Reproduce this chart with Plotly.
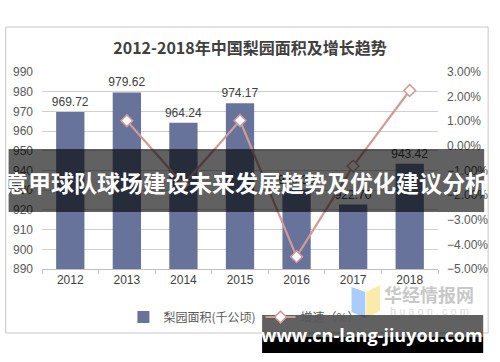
import plotly.graph_objects as go

years = ["2012", "2013", "2014", "2015", "2016", "2017", "2018"]
area = [969.72, 979.62, 964.24, 974.17, 930.33, 922.70, 943.42]
growth_pct = [None, 1.02, -1.57, 1.03, -4.50, -0.82, 2.25]
area_labels = ["969.72", "979.62", "964.24", "974.17", "930.33", "922.70", "943.42"]

W, H = 500, 362
L, R, T, B = 42, 55, 72, 93
PW, PH = W - L - R, H - T - B


def px(x):
    return (x - L) / PW


def py(y):
    return (H - B - y) / PH


bar_color = "#68739b"
line_color = "#d09c98"
txt = "#595959"

fig = go.Figure()
fig.add_trace(go.Bar(
    x=years, y=area, name="梨园面积(千公顷)",
    marker=dict(color=bar_color, line=dict(width=0)),
    text=area_labels, textposition="outside", cliponaxis=False, constraintext="none",
    textfont=dict(size=12, color="#404040", family="Liberation Sans"),
    width=0.5,
))
fig.add_trace(go.Scatter(
    x=years, y=[None if g is None else g / 100 for g in growth_pct],
    name="增速（%）", yaxis="y2", mode="lines+markers",
    line=dict(color=line_color, width=2.2),
    marker=dict(symbol="diamond", size=9, color="white",
                line=dict(color=line_color, width=1.5)),
    connectgaps=False,
))

shapes = [
    # outer chart frame
    dict(type="rect", xref="paper", yref="paper", x0=px(5), x1=px(496), y0=py(333), y1=py(27),
         line=dict(color="#c8c8c8", width=1), fillcolor="rgba(0,0,0,0)", layer="below"),
    # banner
    dict(type="rect", xref="paper", yref="paper", x0=px(8), x1=px(492), y0=py(212), y1=py(149),
         line=dict(width=0), fillcolor="rgba(0,0,0,0.62)", layer="above"),
    # bottom-right box
    dict(type="rect", xref="paper", yref="paper", x0=px(266), x1=px(491), y0=py(337), y1=py(315),
         line=dict(width=0), fillcolor="rgba(0,0,0,0.62)", layer="above"),
    dict(type="rect", xref="paper", yref="paper", x0=px(266), x1=px(491), y0=py(353), y1=py(337),
         line=dict(width=0), fillcolor="#000000", layer="above"),
    # watermark logo
    dict(type="path", xref="paper", yref="paper",
         path=f"M {px(357)} {py(287)} L {px(371)} {py(292)} L {px(371)} {py(318)} L {px(357)} {py(312)} Z",
         line=dict(width=0), fillcolor="rgba(150,190,250,0.8)", layer="below"),
    dict(type="path", xref="paper", yref="paper",
         path=f"M {px(372)} {py(292)} L {px(386)} {py(285)} L {px(386)} {py(311)} L {px(372)} {py(318)} Z",
         line=dict(width=0), fillcolor="rgba(250,230,150,0.8)", layer="below"),
]

annotations = [
    dict(text="意甲球队球场建设未来发展趋势及优化建议分析", xref="paper", yref="paper",
         x=px(250), y=py(182), showarrow=False, xanchor="center", yanchor="middle",
         font=dict(size=23, color="white", family="Noto Sans CJK SC", weight="bold")),
    dict(text="<b>www.cn-lang-jiuyou.com</b>", xref="paper", yref="paper",
         x=px(378), y=py(335), showarrow=False, xanchor="center", yanchor="middle",
         font=dict(size=18, color="white", family="Open Sans")),
    dict(text="<b>华经情报网</b>", xref="paper", yref="paper",
         x=px(436), y=py(294), showarrow=False, xanchor="center", yanchor="middle",
         font=dict(size=18, color="#c8c8c8", family="Noto Sans CJK SC")),
    dict(text="h u a o n . c o m", xref="paper", yref="paper",
         x=px(436), y=py(311), showarrow=False, xanchor="center", yanchor="middle",
         font=dict(size=11, color="#dcdcdc", family="Liberation Sans")),
]

fig.update_layout(
    width=W, height=H,
    margin=dict(l=L, r=R, t=T, b=B),
    paper_bgcolor="white", plot_bgcolor="white",
    title=dict(text="<b>2012-2018年中国梨园面积及增长趋势</b>", x=0.5, xanchor="center",
               y=1 - 48 / H, yanchor="middle",
               font=dict(size=16, color="#404040", family="Noto Sans CJK SC")),
    xaxis=dict(type="category", showgrid=False, showline=True, linecolor="#bfbfbf", linewidth=1,
               ticks="outside", tickson="boundaries", ticklen=4, tickcolor="#bfbfbf",
               tickfont=dict(size=12, color="#404040", family="Liberation Sans")),
    yaxis=dict(range=[890, 990], dtick=10, showgrid=True, gridcolor="#d0d0d0", gridwidth=1,
               zeroline=False, showline=False, ticklabelstandoff=8,
               tickfont=dict(size=12, color=txt, family="Liberation Sans")),
    yaxis2=dict(range=[-0.05, 0.03], dtick=0.01, tickformat=".2%", overlaying="y", side="right",
                showgrid=False, zeroline=False, showline=False, ticklabelstandoff=8,
                tickfont=dict(size=12, color=txt, family="Liberation Sans")),
    legend=dict(orientation="h", x=px(248), xanchor="center", y=py(317), yanchor="middle",
                font=dict(size=12, color=txt, family="Noto Sans CJK SC"),
                bgcolor="rgba(0,0,0,0)", itemwidth=30),
    shapes=shapes, annotations=annotations,
    showlegend=True,
)

fig.write_html("out.html")
